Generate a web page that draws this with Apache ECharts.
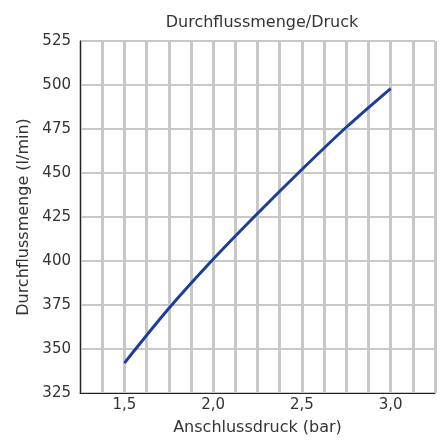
<!DOCTYPE html>
<html>
<head>
<meta charset="utf-8">
<script src="https://cdn.jsdelivr.net/npm/echarts@6/dist/echarts.min.js"></script>
<style>
html,body{margin:0;padding:0;background:#fff;}
#chart{width:440px;height:441px;}
</style>
</head>
<body>
<div id="chart"></div>
<script>
// Anschlussdruck (bar) / Durchflussmenge (l/min)
const pressure = [1.5, 1.75, 2.0, 2.25, 2.5, 2.75, 3.0]
const flow = [342, 373, 401, 427, 452, 476, 498]
const xLabels = [1.5, 2.0, 2.5, 3.0]

const chart = echarts.init(document.getElementById('chart'))
const font = 'DejaVu Sans'

chart.setOption({
    animation:false,
    textStyle:{fontFamily:font},
    title:{
        text:'Durchflussmenge/Druck',
        left:257,
        textAlign:'center',
        top:10,
        textStyle:{fontSize:16,fontWeight:'normal',color:'#333',fontFamily:font}
    },
    grid:{
        left:80, right:5, top:41, bottom:45,
        show:true, borderColor:'#222', borderWidth:1
    },
    xAxis:{
        type:'value',
        min:1.25, max:3.25, interval:0.125,
        name:'Anschlussdruck (bar)',
        nameLocation:'middle',
        nameGap:27,
        nameTextStyle:{fontSize:16,color:'#333',fontFamily:font},
        axisLine:{lineStyle:{color:'#222',width:1}},
        axisTick:{show:false},
        axisLabel:{
            color:'#333', fontSize:15, margin:5, fontFamily:font,
            formatter:(v)=>{
                const hit = xLabels.find(l=>Math.abs(l - v) < 1e-6)
                return hit === undefined ? '' : hit.toFixed(1).replace('.', ',')
            }
        },
        splitLine:{show:true,lineStyle:{color:'#c8c8c8',width:3}}
    },
    yAxis:{
        type:'value',
        min:325, max:525, interval:25,
        name:'Durchflussmenge (l/min)',
        nameLocation:'middle',
        nameGap:39,
        nameTextStyle:{fontSize:16,color:'#333',fontFamily:font},
        axisLine:{show:true,lineStyle:{color:'#222',width:1}},
        axisTick:{show:false},
        axisLabel:{color:'#333',fontSize:15,margin:9,fontFamily:font},
        splitLine:{show:true,lineStyle:{color:'#c8c8c8',width:2}}
    },
    series:[{
        type:'line',
        data:pressure.map((p,i)=>[p, flow[i]]),
        smooth:0.3,
        showSymbol:false,
        lineStyle:{color:'#1d3f93',width:3}
    }]
})
</script>
</body>
</html>
